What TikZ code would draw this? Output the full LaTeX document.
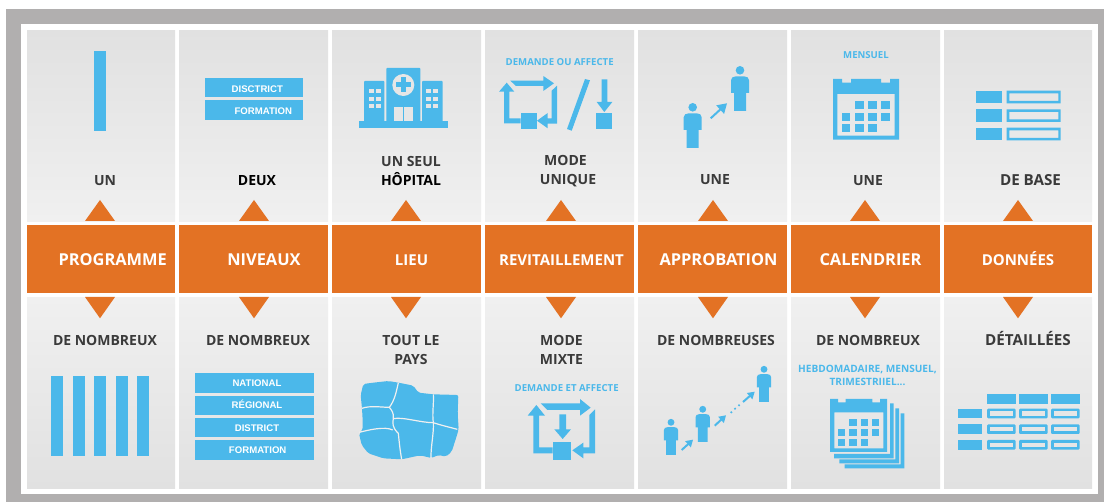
\documentclass[tikz,border=0pt]{standalone}
\usepackage{fontspec}
\setmainfont{Open Sans}
\newfontfamily\heavy{Liberation Sans}
\usetikzlibrary{calc}
\definecolor{bluei}{HTML}{4BB8EA}
\definecolor{orangeb}{HTML}{E37224}
\definecolor{frameg}{HTML}{B1AFAF}
\definecolor{pdark}{HTML}{E1E1E1}
\definecolor{plight}{HTML}{F0F0F0}
\definecolor{txt}{HTML}{3A3A3A}
\tikzset{
 toppanel/.style={draw=none,rectangle,minimum width=#1,minimum height=191pt,inner sep=0pt,anchor=north west,top color=pdark,bottom color=plight},
 botpanel/.style={draw=none,rectangle,minimum width=#1,minimum height=191pt,inner sep=0pt,anchor=north west,top color=plight,bottom color=pdark},
 band/.style={fill=orangeb,rectangle,minimum width=#1,minimum height=68pt,inner sep=0pt,anchor=north west},
 bandtext/.style={text=white,font=\fontsize{16.4}{18}\selectfont\bfseries,inner sep=0pt,anchor=base},
 bandsmall/.style={text=white,font=\fontsize{15}{18}\selectfont\bfseries,inner sep=0pt,anchor=base},
 headtext/.style={text=txt,font=\fontsize{14}{19.5}\selectfont\bfseries,inner sep=0pt,anchor=base},
 headwide/.style={text=txt,font=\fontsize{15.2}{19.5}\selectfont\bfseries,inner sep=0pt,anchor=base},
 headtwo/.style={text=txt,font=\fontsize{14}{19.5}\selectfont\bfseries,inner sep=0pt,align=center},
 bluelabel/.style={text=bluei,font=\fontsize{9.6}{13}\selectfont\bfseries,inner sep=0pt,align=center},
 barlabel/.style={text=white,font=\heavy\fontsize{9.6}{10}\selectfont\bfseries,inner sep=0pt},
 bl/.style={fill=bluei,draw=none},
 blhole/.style={fill=bluei,draw=none,even odd rule},
 hole/.style={fill=plight!30!pdark,draw=none},
 cutline/.style={draw=plight,line width=1.2pt,line join=round},
 otri/.style={fill=orangeb,draw=none},
}
\newcommand{\personicon}[3]{% head x, head y, scale
 \begin{scope}[shift={(#1,#2)},scale=#3]
  \fill[bl] (0,0) circle (4.3);
  \fill[bl] (-9,10) .. controls (-9,7.5) and (-7,6) .. (-4,6) -- (4,6) .. controls (7,6) and (9,7.5) .. (9,10) -- (9,22.7) -- (6,22.7) -- (6,40.7) -- (-6,40.7) -- (-6,22.7) -- (-9,22.7) -- cycle;
 \end{scope}}
\newcommand{\slimarrow}[5]{% x1 y1 x2 y2 head
 \coordinate (sa) at (#1,#2);
 \coordinate (sb) at (#3,#4);
 \draw[bluei,line width=2pt] (sa) -- ($(sb)!#5*0.6pt!(sa)$);
 \fill[bl] (sb) -- ($(sb)!#5 pt!32:(sa)$) -- ($(sb)!#5 pt!-32:(sa)$) -- cycle;}
\begin{document}
\begin{tikzpicture}[x=1pt,y=-1pt]
\useasboundingbox (0,0) rectangle (1104,502);
\fill[white] (0,0) rectangle (1104,502);
\fill[frameg] (6,9) rectangle (1104,502);
\fill[white] (21,24) rectangle (1098,494);
% panels
\node[toppanel=148pt] (t1) at (27,30) {};
\node[toppanel=149pt] (t2) at (179,30) {};
\node[toppanel=149pt] (t3) at (332,30) {};
\node[toppanel=149pt] (t4) at (485,30) {};
\node[toppanel=149pt] (t5) at (638,30) {};
\node[toppanel=149pt] (t6) at (791,30) {};
\node[toppanel=148pt] (t7) at (944,30) {};
\node[botpanel=148pt] (b1) at (27,297) {};
\node[botpanel=149pt] (b2) at (179,297) {};
\node[botpanel=149pt] (b3) at (332,297) {};
\node[botpanel=149pt] (b4) at (485,297) {};
\node[botpanel=149pt] (b5) at (638,297) {};
\node[botpanel=149pt] (b6) at (791,297) {};
\node[botpanel=148pt] (b7) at (944,297) {};
% bands
\node[band=148pt] (o1) at (27,225) {};
\node[band=149pt] (o2) at (179,225) {};
\node[band=149pt] (o3) at (332,225) {};
\node[band=149pt] (o4) at (485,225) {};
\node[band=149pt] (o5) at (638,225) {};
\node[band=149pt] (o6) at (791,225) {};
\node[band=148pt] (o7) at (944,225) {};
\node[bandtext] (ol1) at (112.7,266) {PROGRAMME};
\node[bandtext] (ol2) at (264,266) {NIVEAUX};
\node[bandsmall] (ol3) at (411.5,265.5) {LIEU};
\node[bandsmall] (ol4) at (561.5,265.5) {REVITAILLEMENT};
\node[bandtext] (ol5) at (718.5,266) {APPROBATION};
\node[bandtext] (ol6) at (870.5,266) {CALENDRIER};
\node[bandsmall] (ol7) at (1018,265.5) {DONNÉES};
% triangles
\foreach \x in {100,254,406,561,713,865,1018}{
 \fill[otri] (\x-15,221) -- (\x,200) -- (\x+15,221) -- cycle;
 \fill[otri] (\x-15,297) -- (\x,318.3) -- (\x+15,297) -- cycle;
}
% top headings
\node[headtext] (h1) at (105,185.5) {UN};
\node[headtext,text=black] (h2) at (257,185.5) {DEUX};
\node[headtwo] (h3) at (411,171) {UN SEUL\\\textcolor{black}{HÔPITAL}};
\node[headtwo] (h4) at (568,171) {MODE\hspace*{5pt}\\UNIQUE};
\node[headtext] (h5) at (715,184.5) {UNE};
\node[headtext] (h6) at (868,185.5) {UNE};
\node[headwide] (h7) at (1030.5,185.5) {DE BASE};
% bottom headings
\node[headtext] (l1) at (105,345.5) {DE NOMBREUX};
\node[headtext] (l2) at (258,345.5) {DE NOMBREUX};
\node[headtwo] (l3) at (411,350) {TOUT LE\\PAYS};
\node[headtwo] (l4) at (561.5,350) {MODE\\MIXTE};
\node[headtext] (l5) at (716,345.5) {DE NOMBREUSES};
\node[headtext] (l6) at (868,345.5) {DE NOMBREUX};
\node[headwide] (l7) at (1028,345.5) {DÉTAILLÉES};
% col1 icons
\fill[bl] (94.3,51) rectangle (106,131);
\foreach \x in {51.3,73,94.3,115.7,137}{\fill[bl] (\x,376.3) rectangle (\x+12,456.3);}
% col2 icons
\fill[bl] (205.3,78) rectangle (302.7,97.3);
\fill[bl] (205.3,100.3) rectangle (302.7,119.7);
\node[barlabel] (d1) at (257.3,88.7) {DISCTRICT};
\node[barlabel] (d2) at (263.3,110.7) {FORMATION};
\fill[bl] (194.7,373) rectangle (314,392.7);
\fill[bl] (194.7,395.7) rectangle (314,415);
\fill[bl] (194.7,418) rectangle (314,437.3);
\fill[bl] (194.7,440.3) rectangle (314,460);
\node[barlabel] (n1) at (257,382.7) {NATIONAL};
\node[barlabel] (n2) at (257,404.7) {RÉGIONAL};
\node[barlabel] (n3) at (257,427.7) {DISTRICT};
\node[barlabel] (n4) at (257.7,449.7) {FORMATION};
% hospital
\fill[bl] (359,121) rectangle (448,127.7);
\fill[bl,rounded corners=0.8pt] (364,81) rectangle (384.3,122);
\fill[bl,rounded corners=0.8pt] (386.3,68) rectangle (420.3,122);
\fill[bl,rounded corners=0.8pt] (422,81) rectangle (442.7,122);
\fill[hole] (393.7,107) rectangle (402.8,121);
\fill[hole] (404,107) rectangle (413,121);
\fill[hole] (403.3,85) circle (11);
\fill[bl] (400.8,77.5) rectangle (405.8,92.5);
\fill[bl] (395.8,82.5) rectangle (410.8,87.5);
\foreach \x in {369,376,426,433}{\foreach \y in {89,96.7,104}{\fill[hole] (\x,\y) rectangle (\x+4.7,\y+4.5);}}
% replenishment cycle, top
\node[bluelabel] (dq) at (559.7,62.3) {DEMANDE OU AFFECTE};
\fill[bl] (520.7,113) rectangle (536.7,129);
\fill[bl] (520.7,123.3) -- (504,123.3) -- (504,91.7) -- (499,91.7) -- (506.7,82.7) -- (514.3,91.7) -- (509.3,91.7) -- (509.3,118.3) -- (520.7,118.3) -- cycle;
\fill[bl] (510.3,80.7) -- (543.3,80.7) -- (543.3,76) -- (554,83.3) -- (543.3,91) -- (543.3,86) -- (516,86) -- cycle;
\fill[bl] (557,85.7) -- (557,123.7) -- (547.7,123.7) -- (547.7,128.3) -- (537,120.7) -- (547.7,113) -- (547.7,118.3) -- (551.7,118.3) -- (551.7,90.7) -- cycle;
\fill[bl] (585,79) -- (590,80.3) -- (571.7,130.7) -- (567,129) -- cycle;
\fill[bl] (601.7,79.3) -- (607.3,79.3) -- (607.3,102) -- (612.3,102) -- (604.3,112) -- (596.7,102) -- (601.7,102) -- cycle;
\fill[bl] (596,113) rectangle (612.3,129);
% map
\begin{scope}[shift={(340,370)},scale=1/3]
 \fill[bl,rounded corners=2pt] (70,42) -- (100,38) -- (145,33) -- (175,38) -- (220,47) -- (235,68) -- (280,73) -- (355,75) -- (353,130) -- (356,178) -- (348,205) -- (335,245) -- (318,260) -- (295,255) -- (275,264) -- (240,256) -- (185,268) -- (130,265) -- (85,250) -- (65,225) -- (57,190) -- (68,180) -- (68,150) -- (66,115) -- (62,75) -- cycle;
 \draw[cutline] (175,38) .. controls (170,60) and (165,90) .. (148,112);
 \draw[cutline] (66,115) .. controls (90,106) and (125,112) .. (148,112) .. controls (155,120) and (162,130) .. (160,145) .. controls (158,160) and (156,172) .. (175,190) .. controls (178,220) and (180,240) .. (185,268);
 \draw[cutline] (58,187) .. controls (85,180) and (135,168) .. (158,180);
 \draw[cutline] (160,146) .. controls (190,140) and (240,158) .. (280,158) .. controls (300,165) and (330,172) .. (352,178);
 \draw[cutline] (280,73) .. controls (282,100) and (276,130) .. (280,158) .. controls (282,190) and (272,230) .. (273,264);
\end{scope}
% replenishment cycle, bottom
\node[bluelabel] (de) at (566.7,387.7) {DEMANDE ET AFFECTE};
\begin{scope}[shift={(340,370)},scale=1/3]
 \fill[bl] (638,215) rectangle (692,270);
 \fill[bl] (638,250) -- (580,250) -- (580,137) -- (563,137) -- (589,105) -- (615,137) -- (597,137) -- (597,232) -- (638,232) -- cycle;
 \fill[bl] (602,100) -- (720,100) -- (720,87) -- (752,113) -- (720,137) -- (720,120) -- (622,120) -- cycle;
 \fill[bl] (765,118) -- (765,250) -- (730,250) -- (730,265) -- (697,241) -- (730,218) -- (730,232) -- (748,232) -- (748,135) -- cycle;
 \fill[bl] (658,133) -- (678,133) -- (678,178) -- (693,178) -- (668,207) -- (643,178) -- (658,178) -- cycle;
\end{scope}
% persons top
\personicon{692.7}{107.3}{1}
\personicon{740}{70.3}{1}
\slimarrow{710.7}{118.3}{727}{103.3}{11}
% persons bottom
\personicon{671}{422.3}{0.8}
\personicon{702.7}{409.3}{0.8}
\personicon{764}{369.3}{0.8}
\slimarrow{681.7}{450}{693}{439.7}{8}
\slimarrow{714.7}{425.7}{726}{415.3}{8}
\slimarrow{743}{402}{754.7}{391.7}{8}
\fill[bl] (731.3,412.3) circle (1.2);
\fill[bl] (735,408.7) circle (1.2);
\fill[bl] (739,405.3) circle (1.2);
% calendar top
\node[bluelabel] (men) at (866,54.7) {MENSUEL};
\fill[blhole] (833,79) -- (842,79) -- (842,82.7) -- (851,82.7) -- (851,79) -- (881,79) -- (881,82.7) -- (890,82.7) -- (890,79) -- (899,79) -- (899,139.7) -- (833,139.7) -- cycle
 (837.3,94) rectangle (894.7,135.7);
\foreach \x/\y in {855/101.3,868/101.3,881/101.3,841.7/112.7,855/112.7,868/112.7,881/112.7,841.7/124,855/124,868/124}{\fill[bl] (\x,\y) rectangle (\x+8.7,\y+8);}
% calendar bottom
\node[bluelabel,font=\fontsize{10.1}{13}\selectfont\bfseries] (heb) at (867.5,375) {HEBDOMADAIRE, MENSUEL,\\TRIMESTRIIEL...};
\fill[blhole] (830,399) -- (838,399) -- (838,402.3) -- (845.7,402.3) -- (845.7,399) -- (872.3,399) -- (872.3,402.3) -- (880,402.3) -- (880,399) -- (887,399) -- (887,452) -- (830,452) -- cycle
 (834.3,412.3) rectangle (883.3,448.3);
\foreach \x/\y in {849.3/419,860.7/419,872/419,837.7/429,849.3/429,860.7/429,872/429,837.7/439,849.3/439,860.7/439}{\fill[bl] (\x,\y) rectangle (\x+7.3,\y+7);}
\fill[bl] (890,403.3) -- (893.7,403.3) -- (893.7,458.3) -- (834,458.3) -- (834,454) -- (890,454) -- cycle;
\fill[bl] (895.3,408.3) -- (899,408.3) -- (899,463.3) -- (839.3,463.3) -- (839.3,459.3) -- (895.3,459.3) -- cycle;
\fill[bl] (900.7,413.3) -- (904.3,413.3) -- (904.3,468.3) -- (844.7,468.3) -- (844.7,464.3) -- (900.7,464.3) -- cycle;
% table top
\foreach \y in {90.7,109.3,127.7}{
 \fill[bl] (976,\y) rectangle (1002,\y+12.7);
 \fill[blhole] (1006.7,\y) rectangle (1060.7,\y+12.7) (1009.3,\y+2.6) rectangle (1058.3,\y+10.1);
}
% table bottom
\foreach \x in {987,1019,1051}{
 \fill[bl] (\x,394) rectangle (\x+28.7,403.7);
 \foreach \y in {408.7,424.3,440}{
  \fill[blhole,rounded corners=1.2pt] (\x,\y) rectangle (\x+28.7,\y+9.7);
  \fill[hole] (\x+2.7,\y+2.6) rectangle (\x+26,\y+7);
 }
}
\foreach \y in {408.7,424.3,440}{\fill[bl] (958,\y) rectangle (982,\y+9.7);}
\end{tikzpicture}
\end{document}
